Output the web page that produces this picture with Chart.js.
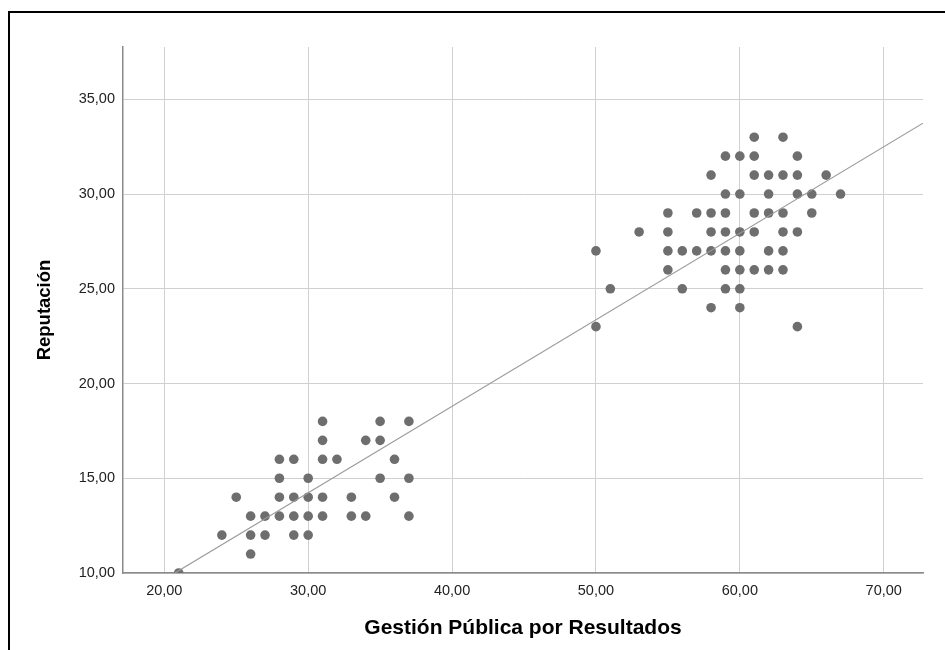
<!DOCTYPE html>
<html>
<head>
<meta charset="utf-8">
<script src="https://cdn.jsdelivr.net/npm/chart.js@4/dist/chart.umd.min.js"></script>
<style>
  body { margin: 0; background: #fff; overflow: hidden; }
  #wrap { position: relative; width: 945px; height: 650px; }
  #frame { position: absolute; left: 8px; top: 11px; width: 1000px; height: 700px;
           border-left: 2px solid #000; border-top: 2px solid #000; }
  #chart { position: absolute; left: 0; top: 0; }
</style>
</head>
<body>
<div id="wrap">
  <div id="frame"></div>
  <canvas id="chart" width="945" height="650"></canvas>
</div>
<script>
// Gestión Pública por Resultados (x) y Reputación (y), un caso por posición
const gestion = [
  21,
  26,
  24, 26, 27, 29, 30,
  26, 27, 28, 29, 30, 31, 33, 34, 37,
  25, 28, 29, 30, 31, 33, 36,
  28, 30, 35, 37,
  28, 29, 31, 32, 36,
  31, 34, 35,
  31, 35, 37,
  50, 64,
  58, 60,
  51, 56, 59, 60,
  55, 59, 60, 61, 62, 63,
  50, 55, 56, 57, 58, 59, 60, 62, 63,
  53, 55, 58, 59, 60, 61, 63, 64,
  55, 57, 58, 59, 61, 62, 63, 65,
  59, 60, 62, 64, 65, 67,
  58, 61, 62, 63, 64, 66,
  59, 60, 61, 64,
  61, 63
];
const reputacion = [
  10,
  11,
  12, 12, 12, 12, 12,
  13, 13, 13, 13, 13, 13, 13, 13, 13,
  14, 14, 14, 14, 14, 14, 14,
  15, 15, 15, 15,
  16, 16, 16, 16, 16,
  17, 17, 17,
  18, 18, 18,
  23, 23,
  24, 24,
  25, 25, 25, 25,
  26, 26, 26, 26, 26, 26,
  27, 27, 27, 27, 27, 27, 27, 27, 27,
  28, 28, 28, 28, 28, 28, 28, 28,
  29, 29, 29, 29, 29, 29, 29, 29,
  30, 30, 30, 30, 30, 30,
  31, 31, 31, 31, 31, 31,
  32, 32, 32, 32,
  33, 33
];

// Recta de ajuste (extremos)
const ajusteX = [20.73, 72.73];
const ajusteY = [10, 33.74];

const xTicks = [20, 30, 40, 50, 60, 70];
const yTicks = [10, 15, 20, 25, 30, 35];

const fmt = v => Number(v).toFixed(2).replace('.', ',');

Chart.defaults.font.family = '"Liberation Sans", Arial, sans-serif';
Chart.defaults.color = '#222';

const ctx = document.getElementById('chart').getContext('2d');
new Chart(ctx, {
  type: 'scatter',
  data: {
    datasets: [
      {
        type: 'line',
        data: ajusteX.map((x, i) => ({ x, y: ajusteY[i] })),
        borderColor: '#9a9a9a',
        borderWidth: 1.2,
        pointRadius: 0,
        fill: false
      },
      {
        data: gestion.map((x, i) => ({ x, y: reputacion[i] })),
        backgroundColor: '#6e6e6e',
        borderColor: '#6e6e6e',
        borderWidth: 0,
        pointRadius: 4.8,
        pointHoverRadius: 4.8
      }
    ]
  },
  options: {
    responsive: false,
    animation: false,
    events: [],
    layout: { padding: { top: 47, right: 22, left: 0, bottom: 0 } },
    plugins: { legend: { display: false }, tooltip: { enabled: false } },
    scales: {
      x: {
        type: 'linear',
        min: 17.13,
        max: 72.73,
        afterBuildTicks: s => { s.ticks = xTicks.map(v => ({ value: v })); },
        afterFit: s => { s.height = 77; },
        grid: { color: '#d0d0d0', drawTicks: false },
        border: { color: '#8a8a8a', width: 1.5 },
        ticks: { callback: fmt, font: { size: 14.5 }, padding: 9, color: '#222' },
        title: {
          display: true,
          text: 'Gestión Pública por Resultados',
          font: { size: 21, weight: 'bold' },
          color: '#000',
          padding: { top: 0, bottom: 9 }
        }
      },
      y: {
        type: 'linear',
        min: 10,
        max: 37.76,
        afterBuildTicks: s => { s.ticks = yTicks.map(v => ({ value: v })); },
        afterFit: s => { s.width = 123; },
        grid: { color: '#d0d0d0', drawTicks: false },
        border: { color: '#8a8a8a', width: 1.5 },
        ticks: { callback: fmt, font: { size: 14.5 }, padding: 8, color: '#222' },
        title: {
          display: true,
          text: 'Reputación',
          font: { size: 18.5, weight: 'bold' },
          color: '#000',
          padding: { top: 34, bottom: 0 }
        }
      }
    }
  }
});
</script>
</body>
</html>
